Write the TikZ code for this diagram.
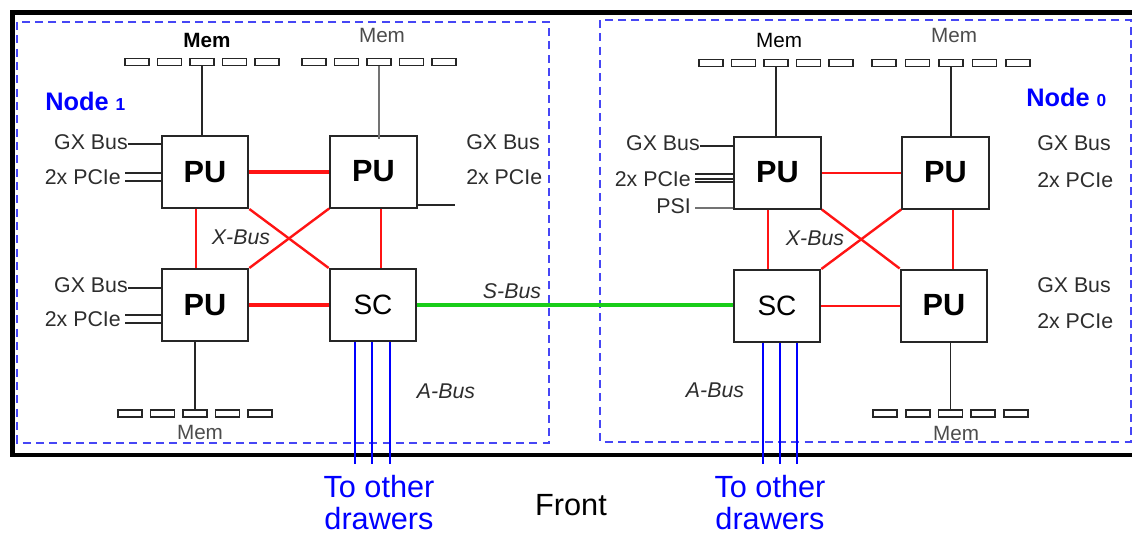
\documentclass[tikz,border=0pt]{standalone}
\usepackage{fontspec}
\setmainfont{Liberation Sans}
\definecolor{dashblue}{RGB}{70,70,245}
\definecolor{txt}{RGB}{45,45,45}
\definecolor{busgreen}{RGB}{25,205,25}
\definecolor{nodeblue}{RGB}{0,0,255}
\definecolor{busred}{RGB}{255,20,20}
\begin{document}
\begin{tikzpicture}[x=0.75pt,y=-0.75pt,
  box/.style={draw=black!85,line width=1.5pt,fill=white,minimum width=65pt,minimum height=54pt,inner sep=0pt},
  pubox/.style={box,font=\fontsize{23}{27}\selectfont\bfseries},
  scbox/.style={box,font=\fontsize{21}{25}\selectfont},
  slot/.style={draw=black!85,line width=1.2pt,minimum width=18pt,minimum height=5pt,inner sep=0pt},
  lbl/.style={text=txt,font=\fontsize{16}{19}\selectfont,inner sep=0pt},
  memlbl/.style={lbl,font=\fontsize{15.5}{18}\selectfont},
  buslbl/.style={text=txt,font=\fontsize{16}{19}\selectfont\itshape,inner sep=0pt},
  nodelbl/.style={text=nodeblue,font=\fontsize{19}{22}\selectfont\bfseries,inner sep=0pt},
  drawerlbl/.style={text=nodeblue,font=\fontsize{23}{24}\selectfont,align=center,inner sep=0pt},
  conn/.style={draw=black!85,line width=1.3pt},
  gconn/.style={draw=black!55,line width=1.3pt},
  xbus/.style={draw=busred,line width=1.5pt},
  xbusthick/.style={draw=busred,line width=2.3pt},
  sbus/.style={draw=busgreen,line width=2.3pt},
  abus/.style={draw=nodeblue,line width=2.1pt},
  dbox/.style={draw=dashblue,line width=1.1pt,dash pattern=on 6pt off 4pt}
]
\useasboundingbox (0,0) rectangle (1132,536);

% frame
\draw[line width=3.6pt,miter limit=10] (1132,12.5) -- (12.5,12.5) -- (12.5,455) -- (1132,455);
\draw[dbox] (17,22) rectangle (549,443);
\draw[dbox] (600,20) rectangle (1131,442);

% ---------------- Node 1 (left) ----------------
\node[pubox] (pu1a) at (205,172) {PU};
\node[pubox] (pu1b) at (373.5,171.5) {PU};
\node[pubox] (pu1c) at (205,305) {PU};
\node[scbox] (sc1) at (373,305) {SC};

\foreach \i in {0,...,4} \node[slot] (mta\i) at (137+32.5*\i,62) {};
\foreach \i in {0,...,4} \node[slot] (mtb\i) at (314+32.5*\i,62) {};
\foreach \i in {0,...,4} \node[slot] (mba\i) at (130+32.5*\i,413.5) {};

\node[memlbl,text=black,font=\fontsize{15.5}{18}\selectfont\bfseries] (mem1) at (207,40) {Mem};
\node[memlbl,text=black!70] (mem2) at (382,35) {Mem};
\node[memlbl,text=black!70] (mem3) at (200,432) {Mem};

\draw[conn] (mta2.south) -- (mta2.south |- pu1a.north);
\draw[gconn] (mtb2.south) -- ([yshift=-3pt]mtb2.south |- pu1b.north);
\draw[conn] (mba2.north) -- (mba2.north |- pu1c.south);

\node[nodelbl,anchor=west] (n1) at (45,101) {Node {\fontsize{13}{15}\selectfont 1}};

\node[lbl,anchor=east] (gx1a) at (128,142) {GX Bus};
\draw[conn] ([yshift=-1.5pt]gx1a.east) -- ([yshift=-1.5pt]gx1a.east -| pu1a.west);
\node[lbl,anchor=east] (pc1a) at (121,177) {2x PCIe};
\draw[conn] ([xshift=3pt,yshift=3pt]pc1a.east) -- ([yshift=3pt]pc1a.east -| pu1a.west);
\draw[conn] ([xshift=3pt,yshift=-3pt]pc1a.east) -- ([yshift=-3pt]pc1a.east -| pu1a.west);

\node[lbl,anchor=east] (gx1c) at (128,285) {GX Bus};
\draw[conn] ([yshift=-2pt]gx1c.east) -- ([yshift=-2pt]gx1c.east -| pu1c.west);
\node[lbl,anchor=east] (pc1c) at (121,319) {2x PCIe};
\draw[conn] ([xshift=3pt,yshift=3pt]pc1c.east) -- ([yshift=3pt]pc1c.east -| pu1c.west);
\draw[conn] ([xshift=3pt,yshift=-3pt]pc1c.east) -- ([yshift=-3pt]pc1c.east -| pu1c.west);

\node[lbl,anchor=west] (gx1b) at (466,142) {GX Bus};
\node[lbl,anchor=west] (pc1b) at (466,177) {2x PCIe};
\coordinate (o1) at (455,205);
\draw[conn] (pu1b.east |- o1) -- (o1);

\draw[xbusthick] (pu1a.east) -- (pu1a.east -| pu1b.west);
\draw[xbusthick] (pu1c.east) -- (sc1.west);
\draw[xbus] ([xshift=-6.75pt]pu1a.south) -- ([xshift=-6.75pt]pu1c.north);
\draw[xbus] ([xshift=5.6pt]pu1b.south) -- ([xshift=5.6pt]pu1b.south |- sc1.north);
\draw[xbus,line width=1.8pt] (pu1a.south east) -- (sc1.north west);
\draw[xbus,line width=1.8pt] (pu1b.south west) -- (pu1c.north east);
\node[buslbl] (xb1) at (241,237) {X-Bus};

\foreach \x in {355,372,390} \draw[abus] (sc1.south -| \x,0) -- (\x,464);
\node[buslbl] (ab1) at (446,391) {A-Bus};

% ---------------- Node 0 (right) ----------------
\node[pubox] (pu0a) at (777.5,172.5) {PU};
\node[pubox] (pu0b) at (945.5,172.5) {PU};
\node[scbox] (sc0) at (777,306) {SC};
\node[pubox] (pu0c) at (944,305.5) {PU};

\foreach \i in {0,...,4} \node[slot] (nta\i) at (711+32.5*\i,63) {};
\foreach \i in {0,...,4} \node[slot] (ntb\i) at (884+33.5*\i,63) {};
\foreach \i in {0,...,4} \node[slot] (nba\i) at (885+32.75*\i,413.5) {};

\node[memlbl,text=black] (mem4) at (779,40) {Mem};
\node[memlbl,text=black!70] (mem5) at (954,35) {Mem};
\node[memlbl,text=black!70] (mem6) at (956,433) {Mem};

\draw[conn] (nta2.south) -- (nta2.south |- pu0a.north);
\draw[conn] (ntb2.south) -- ([yshift=-1pt]ntb2.south |- pu0b.north);
\draw[conn] (nba2.north) -- (nba2.north |- pu0c.south);

\node[nodelbl,anchor=west] (n0) at (1026,97) {Node {\fontsize{13}{15}\selectfont 0}};

\node[lbl,anchor=east] (gx0a) at (700,143) {GX Bus};
\draw[conn] ([yshift=-2pt]gx0a.east) -- ([yshift=-2pt]gx0a.east -| pu0a.west);
\node[lbl,anchor=east] (pc0a) at (691,179) {2x PCIe};
\draw[conn] ([xshift=3pt,yshift=4pt]pc0a.east) -- ([yshift=4pt]pc0a.east -| pu0a.west);
\draw[conn] ([xshift=3pt,yshift=0pt]pc0a.east) -- ([yshift=0pt]pc0a.east -| pu0a.west);
\draw[conn] ([xshift=3pt,yshift=-2.5pt]pc0a.east) -- ([yshift=-2.5pt]pc0a.east -| pu0a.west);
\node[lbl,anchor=east] (psi0) at (691,206) {PSI};
\draw[gconn] ([xshift=3pt,yshift=-1.5pt]psi0.east) -- ([yshift=-1.5pt]psi0.east -| pu0a.west);

\node[lbl,anchor=west] (gx0b) at (1037,143) {GX Bus};
\node[lbl,anchor=west] (pc0b) at (1037,180) {2x PCIe};
\node[lbl,anchor=west] (gx0c) at (1037,285) {GX Bus};
\node[lbl,anchor=west] (pc0c) at (1037,321) {2x PCIe};

\draw[xbus] (pu0a.east) -- (pu0b.west);
\draw[xbus] (sc0.east) -- (sc0.east -| pu0c.west);
\draw[xbus] ([xshift=-7pt]pu0a.south) -- ([xshift=-7pt]pu0a.south |- sc0.north);
\draw[xbus] ([xshift=5.6pt]pu0b.south) -- ([xshift=5.6pt]pu0b.south |- pu0c.north);
\draw[xbus,line width=1.8pt] (pu0a.south east) -- (pu0c.north west);
\draw[xbus,line width=1.8pt] (pu0b.south west) -- (sc0.north east);
\node[buslbl] (xb0) at (815,238) {X-Bus};

\foreach \x in {763,780,797} \draw[abus] (sc0.south -| \x,0) -- (\x,464);
\node[buslbl] (ab0) at (715,390) {A-Bus};

% S-Bus
\draw[sbus] (sc1.east) -- (sc1.east -| sc0.west);
\node[buslbl] (sb) at (512,291) {S-Bus};

% bottom texts
\node[drawerlbl,anchor=north] (to1) at (379,475) {To other\\drawers};
\node[drawerlbl,anchor=north] (to0) at (770,475) {To other\\drawers};
\node[font=\fontsize{23}{25}\selectfont,inner sep=0pt] (front) at (571,505) {Front};
\end{tikzpicture}
\end{document}
